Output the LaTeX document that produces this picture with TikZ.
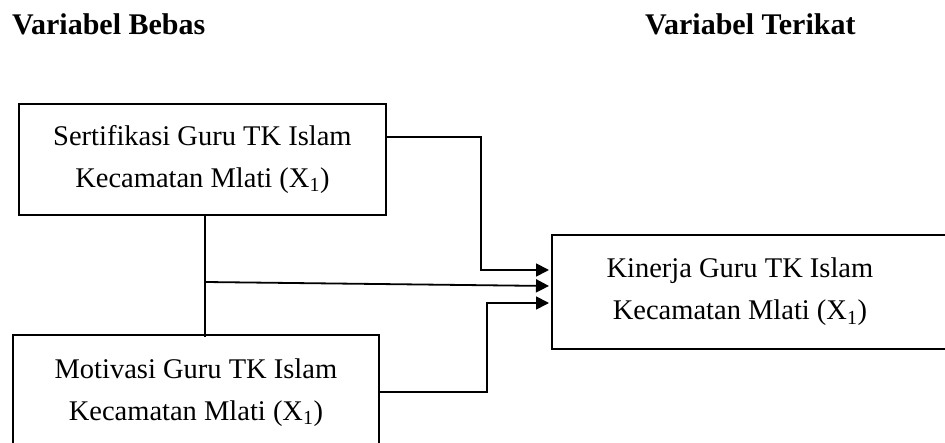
\documentclass[tikz,border=0pt]{standalone}
\usepackage{fontspec}
\setmainfont{Liberation Serif}
\usetikzlibrary{arrows.meta}
\begin{document}
\begin{tikzpicture}[x=1pt,y=-1pt,
 box/.style={draw,line width=1.8pt,inner sep=0pt,align=center,font=\fontsize{28.5}{42}\selectfont,anchor=north west},
 conn/.style={line width=1.8pt},
 arr/.style={conn,-{Triangle[length=13pt,width=13pt]}},
 head/.style={font=\bfseries\fontsize{30}{36}\selectfont,anchor=base west,inner sep=0pt}]
\useasboundingbox (0,0) rectangle (945,443);
\clip (0,0) rectangle (945,443);
\fill[white] (0,0) rectangle (945,443);
\node[head] (h1) at (12,35) {Variabel Bebas};
\node[head] (h2) at (645,35) {Variabel Terikat};
\node[box,minimum width=367pt,minimum height=111pt] (b1) at (18,103) {Sertifikasi Guru TK Islam\\Kecamatan Mlati (X\textsubscript{1})};
\node[box,minimum width=366pt,minimum height=115pt] (b2) at (12,334) {Motivasi Guru TK Islam\\Kecamatan Mlati (X\textsubscript{1})};
\node[box,draw=none,minimum width=374pt,minimum height=112pt] (k) at (552,235) {Kinerja Guru TK Islam\\Kecamatan Mlati (X\textsubscript{1})};
\draw[line width=1.8pt] (k.north west) rectangle ([xshift=40pt]k.south east);
\coordinate (j) at (205,282);
\draw[conn] (b1.south -| j) -- ([yshift=-3pt]b2.north -| j);
\draw[arr] (b1.east |- 0,137) -| (481,270) -- ([xshift=-3pt]k.west |- 0,270);
\draw[arr] (j) -- ([xshift=-3pt]k.west |- 0,286);
\draw[arr] (b2.east |- 0,392) -| (487,303) -- ([xshift=-3pt]k.west |- 0,303);
\end{tikzpicture}
\end{document}
